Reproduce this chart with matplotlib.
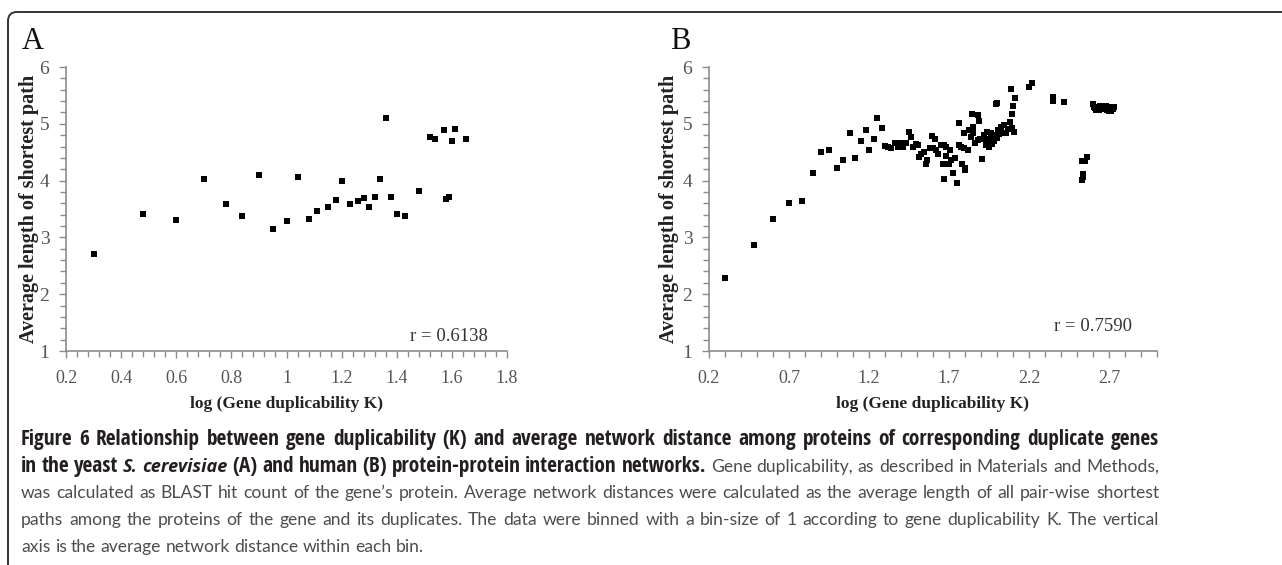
# Figure 6: gene duplicability vs. average network distance (yeast A, human B)
import matplotlib
matplotlib.use('Agg')
import matplotlib.pyplot as plt
from matplotlib import font_manager
from matplotlib.patches import FancyBboxPatch
from matplotlib.ticker import MultipleLocator

# --- data ---
# A: yeast S. cerevisiae
xa = [0.30, 0.48, 0.60, 0.70, 0.78, 0.84, 0.90, 0.95, 1.00, 1.04, 1.08, 1.11,
      1.15, 1.18, 1.20, 1.23, 1.26, 1.28, 1.30, 1.32, 1.34, 1.36, 1.38, 1.40,
      1.43, 1.48, 1.52, 1.54, 1.57, 1.58, 1.59, 1.60, 1.61, 1.65]
ya = [2.70, 3.42, 3.31, 4.03, 3.58, 3.38, 4.09, 3.14, 3.29, 4.06, 3.33, 3.47,
      3.54, 3.66, 4.00, 3.59, 3.64, 3.69, 3.54, 3.71, 4.02, 5.11, 3.72, 3.41,
      3.38, 3.81, 4.77, 4.73, 4.89, 3.68, 3.72, 4.70, 4.90, 4.74]

# B: human
xb = [0.30, 0.48, 0.60, 0.70, 0.78, 0.85, 0.90, 0.95, 1.00, 1.04, 1.08, 1.11,
      1.15, 1.18, 1.20, 1.23, 1.25, 1.28,
      1.30, 1.32, 1.34, 1.36, 1.38, 1.40, 1.415, 1.43,
      1.447, 1.464, 1.477, 1.494, 1.506, 1.515, 1.528, 1.545, 1.565, 1.557,
      1.591, 1.613, 1.582, 1.603, 1.620, 1.633, 1.647, 1.667, 1.684, 1.704,
      1.662, 1.684, 1.701, 1.670, 1.723, 1.747, 1.714, 1.735, 1.760, 1.777,
      1.794, 1.816, 1.765, 1.780, 1.802, 1.799, 1.791, 1.841, 1.882, 1.887,
      1.850, 1.828, 1.836, 1.853, 1.862, 1.879, 1.896, 1.909,
      1.921, 1.938, 1.946, 1.929, 1.955, 1.963, 1.972, 1.980, 1.989, 2.006,
      2.023, 2.043, 2.031, 2.056, 2.082, 2.104, 1.930, 1.950, 1.970, 1.940,
      2.000, 2.015, 2.070, 2.095,
      1.994, 1.999, 2.090, 2.111, 2.099, 2.094, 2.200, 2.217,
      2.350, 2.352, 2.420,
      2.530, 2.536, 2.540, 2.531, 2.550, 2.560,
      2.600, 2.605, 2.610, 2.620, 2.630, 2.640, 2.645, 2.650, 2.655, 2.665,
      2.675, 2.680, 2.685, 2.690, 2.700, 2.700, 2.710, 2.715, 2.725, 2.730]
yb = [2.29, 2.87, 3.32, 3.61, 3.64, 4.14, 4.50, 4.54, 4.22, 4.36, 4.83, 4.39,
      4.70, 4.89, 4.54, 4.73, 5.10, 4.92,
      4.61, 4.60, 4.57, 4.67, 4.60, 4.67, 4.60, 4.67,
      4.86, 4.77, 4.60, 4.64, 4.63, 4.42, 4.47, 4.50, 4.36, 4.29,
      4.78, 4.74, 4.57, 4.57, 4.54, 4.47, 4.63, 4.62, 4.60, 4.54,
      4.30, 4.43, 4.30, 4.02, 4.13, 3.95, 4.36, 4.39, 4.63, 4.60,
      4.57, 4.54, 5.01, 4.29, 4.23, 4.19, 4.83, 5.17, 5.15, 5.05,
      4.95, 4.89, 4.77, 4.83, 4.66, 4.71, 4.74, 4.38,
      4.80, 4.86, 4.74, 4.69, 4.66, 4.83, 4.74, 4.69, 4.80, 4.89,
      4.95, 4.98, 4.83, 4.83, 5.04, 4.86, 4.62, 4.60, 4.65, 4.72,
      4.75, 4.82, 4.90, 4.92,
      5.35, 5.37, 5.61, 5.45, 5.31, 5.17, 5.65, 5.71,
      5.48, 5.40, 5.39,
      4.01, 4.07, 4.12, 4.35, 4.35, 4.41,
      5.34, 5.30, 5.27, 5.25, 5.29, 5.24, 5.32, 5.28, 5.31, 5.26,
      5.29, 5.32, 5.24, 5.30, 5.27, 5.22, 5.23, 5.29, 5.26, 5.30]

xticks_a = [0.2, 0.4, 0.6, 0.8, 1.0, 1.2, 1.4, 1.6, 1.8]
xlabels_a = ['0.2', '0.4', '0.6', '0.8', '1', '1.2', '1.4', '1.6', '1.8']
xticks_b = [0.2, 0.7, 1.2, 1.7, 2.2, 2.7]
xlabels_b = ['0.2', '0.7', '1.2', '1.7', '2.2', '2.7']
yticks = [1, 2, 3, 4, 5, 6]

names = {f.name for f in font_manager.fontManager.ttflist}
bold_font = 'Open Sans Condensed' if 'Open Sans Condensed' in names else 'Open Sans'
reg_font = 'Lato' if 'Lato' in names else 'Open Sans'
serif = 'Liberation Serif'

W, H = 1282, 565
fig = plt.figure(figsize=(W / 100, H / 100), dpi=100)

# background axes in pixel coordinates: frame, panel letters, caption
bg = fig.add_axes([0, 0, 1, 1])
bg.set_xlim(0, W)
bg.set_ylim(H, 0)
bg.axis('off')
bg.add_patch(FancyBboxPatch((8, 12), 1400, 700, boxstyle='round,pad=0,rounding_size=9',
                            fill=False, ec='#333333', lw=1.4))
bg.text(22, 49, 'A', family=serif, fontsize=22, va='baseline', color='#111111')
bg.text(670, 49, 'B', family=serif, fontsize=22, va='baseline', color='#111111')


def style_axis(ax, xlim, xticks, xlabels, xminor, ylab_x, r_text, r_pos):
    ax.scatter(ax.xdata, ax.ydata, marker='s', s=14, c='black', linewidths=0, zorder=3)
    ax.set_xlim(*xlim)
    ax.set_ylim(1, 6)
    ax.set_xticks(xticks)
    ax.set_xticklabels(xlabels)
    ax.set_yticks(yticks)
    ax.xaxis.set_minor_locator(MultipleLocator(xminor))
    ax.yaxis.set_minor_locator(MultipleLocator(0.2))
    for s in ['top', 'right']:
        ax.spines[s].set_visible(False)
    for s in ['left', 'bottom']:
        ax.spines[s].set_color('#8c8c8c')
        ax.spines[s].set_linewidth(1.2)
    ax.tick_params(which='both', direction='out', color='#8c8c8c', width=1.0)
    ax.tick_params(which='major', length=5)
    ax.tick_params(which='minor', length=4)
    ax.tick_params(axis='x', which='major', pad=9, labelsize=13, labelcolor='#555555')
    ax.tick_params(axis='y', which='major', pad=7, labelsize=14, labelcolor='#555555')
    for lab in ax.get_xticklabels() + ax.get_yticklabels():
        lab.set_family(serif)
    ax.set_xlabel('log (Gene duplicability K)', family=serif, weight='bold',
                  fontsize=12.5, color='#222222')
    ax.set_ylabel('Average length of shortest path', family=serif, weight='bold',
                  fontsize=14.5, color='#222222')
    ax.xaxis.set_label_coords(0.5, -0.16)
    ax.yaxis.set_label_coords(ylab_x, 0.5)
    ax.text(r_pos[0], r_pos[1], r_text, transform=ax.transAxes, ha='right', va='bottom',
            family=serif, fontsize=13.5, color='#333333')
    ax.patch.set_alpha(0)


axA = fig.add_axes([66 / W, 1 - 351 / H, 441 / W, 284 / H])
axA.xdata, axA.ydata = xa, ya
style_axis(axA, (0.2, 1.8), xticks_a, xlabels_a, 0.04, -0.062, 'r = 0.6138', (0.957, 0.02))

axB = fig.add_axes([709 / W, 1 - 351 / H, 448 / W, 284 / H])
axB.xdata, axB.ydata = xb, yb
style_axis(axB, (0.2, 3.0), xticks_b, xlabels_b, 0.1, -0.067, 'r = 0.7590', (0.944, 0.055))

# --- caption, justified word by word ---
Bp = dict(family=bold_font, weight='bold', fontsize=13, color='#231f20')
BIp = dict(family='Open Sans', weight='bold', style='italic', fontsize=11, color='#231f20')
Rp = dict(family=reg_font, weight='normal', fontsize=13, color='#4d4d4d')


def seg(text, props):
    return [(w, props) for w in text.split()]


lines = [
    seg('Figure 6 Relationship between gene duplicability (K) and average network distance '
        'among proteins of corresponding duplicate genes', Bp),
    seg('in the yeast', Bp) + seg('S. cerevisiae', BIp)
    + seg('(A) and human (B) protein-protein interaction networks.', Bp)
    + seg('Gene duplicability, as described in Materials and Methods,', Rp),
    seg('was calculated as BLAST hit count of the gene\u2019s protein. Average network distances '
        'were calculated as the average length of all pair-wise shortest', Rp),
    seg('paths among the proteins of the gene and its duplicates. The data were binned with a '
        'bin-size of 1 according to gene duplicability K. The vertical', Rp),
    seg('axis is the average network distance within each bin.', Rp),
]
baselines = [445, 471.7, 498.3, 525, 551.6]
x0, x1 = 21, 1159

renderer = fig.canvas.get_renderer()
all_texts = []
for words, yb_ in zip(lines, baselines):
    all_texts.append([bg.text(0, yb_, w, va='baseline', ha='left', **p) for w, p in words])


def natural_width(texts):
    widths = [t.get_window_extent(renderer).width for t in texts]
    space = 0.25 * texts[0].get_fontsize() * 100 / 72
    return sum(widths) + space * (len(texts) - 1)


# size the bold font on line 1 and the regular font on lines 3-4 so they fill the measure
for _ in range(3):
    sb = (x1 - x0) * 0.985 / natural_width(all_texts[0])
    sr = (x1 - x0) * 0.985 / max(natural_width(all_texts[2]), natural_width(all_texts[3]))
    for texts in all_texts:
        for t in texts:
            if t.get_fontweight() in ('bold', 700):
                t.set_fontsize(t.get_fontsize() * sb)
            else:
                t.set_fontsize(t.get_fontsize() * sr)

for i, texts in enumerate(all_texts):
    widths = [t.get_window_extent(renderer).width for t in texts]
    if i < len(all_texts) - 1:
        gap = (x1 - x0 - sum(widths)) / (len(texts) - 1)
    else:
        gap = 0.25 * texts[0].get_fontsize() * 100 / 72
    x = x0
    for t, w in zip(texts, widths):
        t.set_x(x)
        x += w + gap

fig.savefig('out.png', dpi=100)
